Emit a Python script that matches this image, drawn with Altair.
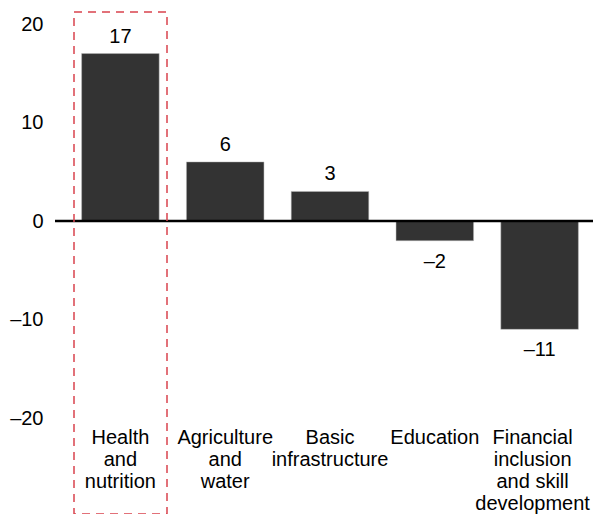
import altair as alt
import pandas as pd

categories = ["Health|and|nutrition", "Agriculture|and|water", "Basic|infrastructure",
              "Education", "Financial|inclusion|and skill|development"]
values = [17, 6, 3, -2, -11]
value_labels = ["17", "6", "3", "\u20132", "\u201311"]

df = pd.DataFrame({"cat": categories, "value": values, "label": value_labels})

FONT = "Arial, Liberation Sans, sans-serif"
W, H = 524, 394

x_enc = alt.X("cat:N", sort=categories, title=None,
              scale=alt.Scale(paddingInner=0.26, paddingOuter=0.13),
              axis=alt.Axis(labelExpr="split(datum.label, '|')", labelAngle=0,
                            labelFontSize=20, labelFont=FONT, labelColor="#000",
                            labelLineHeight=22, labelPadding=9, labelBaseline="top",
                            labelOffset={"condition": {"test": "indexof(datum.label, 'Financial') >= 0",
                                                       "value": -7}, "value": 0},
                            ticks=False, domain=False, labelLimit=200))
y_scale = alt.Scale(domain=[-20, 20], nice=False)

base = alt.Chart(df)

bars = base.mark_bar(color="#333333", stroke="#bbbbbb", strokeWidth=0.5).encode(
    x=x_enc,
    y=alt.Y("value:Q", scale=y_scale, title=None,
            axis=alt.Axis(values=[-20, -10, 0, 10, 20], grid=False, ticks=False, domain=False,
                          labelFontSize=20, labelFont=FONT, labelColor="#000", labelPadding=25,
                          labelExpr="datum.value < 0 ? '\u2013' + abs(datum.value) : datum.label")),
)

pos_text = base.transform_filter("datum.value >= 0").mark_text(
    baseline="bottom", dy=-7, fontSize=20, font=FONT, color="#000").encode(
    x=alt.X("cat:N", sort=categories), y=alt.Y("value:Q", scale=y_scale), text="label:N")

neg_text = base.transform_filter("datum.value < 0").mark_text(
    baseline="top", dy=11, fontSize=20, font=FONT, color="#000").encode(
    x=alt.X("cat:N", sort=categories), y=alt.Y("value:Q", scale=y_scale), text="label:N")

zero = alt.Chart(pd.DataFrame({"z": [0]})).mark_rule(color="#000", strokeWidth=2.5, clip=False).encode(
    y=alt.Y("z:Q", scale=y_scale), x=alt.value(-13), x2=alt.value(W + 1))

box = alt.Chart(pd.DataFrame({"a": [0]})).mark_rect(
    fill=None, stroke="#d9434e", strokeWidth=1.5, strokeDash=[8, 6], clip=False).encode(
    x=alt.value(6), x2=alt.value(99), y=alt.value(-12), y2=alt.value(490))

chart = alt.layer(bars, zero, pos_text, neg_text, box).properties(
    width=W, height=H,
    autosize=alt.AutoSizeParams(type="none"),
    padding={"left": 60, "top": 16, "right": 1, "bottom": 96},
).configure_view(stroke=None)

chart.save("out.html", embed_options={"renderer": "svg", "actions": False})
